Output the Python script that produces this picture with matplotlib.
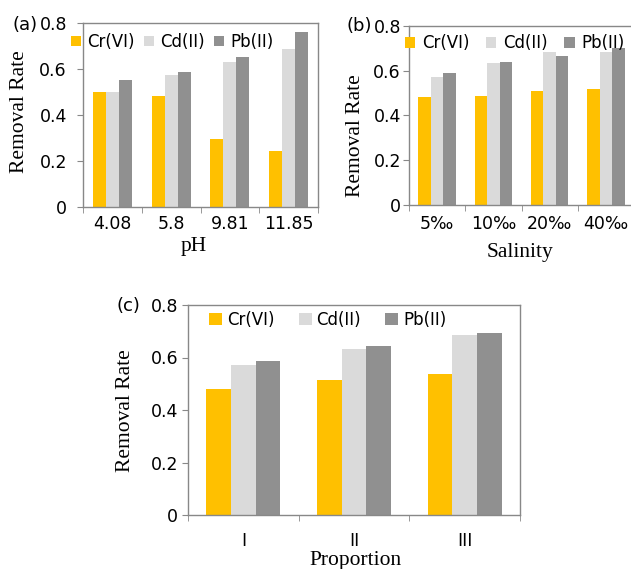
import matplotlib
matplotlib.use("Agg")
import matplotlib.pyplot as plt
import numpy as np
from matplotlib.ticker import FixedLocator, NullFormatter

# ---------------- data ----------------
series_names = ["Cr(VI)", "Cd(II)", "Pb(II)"]
colors = ["#FFC000", "#DADADA", "#909090"]

ph_cats = ["4.08", "5.8", "9.81", "11.85"]
ph_cr = [0.50, 0.483, 0.296, 0.243]
ph_cd = [0.50, 0.574, 0.632, 0.686]
ph_pb = [0.554, 0.588, 0.654, 0.759]

sal_cats = ["5‰", "10‰", "20‰", "40‰"]
sal_cr = [0.483, 0.489, 0.510, 0.520]
sal_cd = [0.574, 0.633, 0.686, 0.684]
sal_pb = [0.589, 0.638, 0.666, 0.700]

prop_cats = ["I", "II", "III"]
prop_cr = [0.481, 0.516, 0.537]
prop_cd = [0.570, 0.631, 0.684]
prop_pb = [0.587, 0.644, 0.695]

yticks = [0, 0.2, 0.4, 0.6, 0.8]
ytick_labels = ["0", "0.2", "0.4", "0.6", "0.8"]

W, H = 631, 569
fig = plt.figure(figsize=(W / 100, H / 100), dpi=100)

SANS = "DejaVu Sans"
SERIF = "Liberation Serif"
spine_col = "#888888"
PX = 72 / 100  # points per pixel


def px_axes(left, top, right, bottom):
    return fig.add_axes([left / W, 1 - bottom / H, (right - left) / W, (bottom - top) / H])


def fig_pt(x, y):
    return x / W, 1 - y / H


def draw_panel(ax, cats, vals, xlabel, ypad_px, xpad_px, leg_anchor, colsp, hl, tpad,
               ylab_xy, xlab_xy):
    n = len(cats)
    x = np.arange(n)
    bw = 0.222
    for i, (v, c, name) in enumerate(zip(vals, colors, series_names)):
        ax.bar(x + (i - 1) * bw, v, width=bw, color=c, label=name, zorder=2)
    ax.set_xlim(-0.5, n - 0.5)
    ax.set_ylim(0, 0.8)
    ax.set_yticks(yticks)
    ax.set_yticklabels(ytick_labels, fontfamily=SANS, fontsize=12.5)
    ax.set_xticks(x)
    ax.set_xticklabels(cats, fontfamily=SANS, fontsize=12.5)
    ax.xaxis.set_minor_locator(FixedLocator(np.arange(n + 1) - 0.5))
    ax.xaxis.set_minor_formatter(NullFormatter())
    ax.tick_params(axis="x", which="major", length=0, pad=xpad_px * PX)
    ax.tick_params(axis="x", which="minor", length=6 * PX, color=spine_col, direction="out")
    ax.tick_params(axis="y", length=6 * PX, color=spine_col, direction="out", pad=ypad_px * PX)
    for s in ax.spines.values():
        s.set_color(spine_col)
        s.set_linewidth(1.0)
    ax.set_ylabel("Removal Rate", fontfamily=SERIF, fontsize=15.5, va="center", ha="center")
    ax.yaxis.set_label_coords(*fig_pt(*ylab_xy), transform=fig.transFigure)
    ax.set_xlabel(xlabel, fontfamily=SERIF, fontsize=15.5, va="center", ha="center")
    ax.xaxis.set_label_coords(*fig_pt(*xlab_xy), transform=fig.transFigure)
    leg = ax.legend(loc="center left", bbox_to_anchor=leg_anchor, ncol=3, frameon=False,
                    borderaxespad=0, borderpad=0, handlelength=hl, handleheight=hl,
                    handletextpad=tpad, columnspacing=colsp,
                    prop={"family": SANS, "size": 12})
    return leg


ax_a = px_axes(83, 23, 318, 207)
draw_panel(ax_a, ph_cats, [ph_cr, ph_cd, ph_pb], "pH", 10, 8,
           (-0.051, 0.897), 0.55, 0.62, 0.35, (19.5, 112), (194, 246))

ax_b = px_axes(409, 26, 634, 205)
draw_panel(ax_b, sal_cats, [sal_cr, sal_cd, sal_pb], "Salinity", 2, 10,
           (-0.018, 0.905), 1.0, 0.62, 0.4, (356, 136), (520, 252))

ax_c = px_axes(188, 305, 520, 515)
draw_panel(ax_c, prop_cats, [prop_cr, prop_cd, prop_pb], "Proportion", 4, 17,
           (0.063, 0.929), 1.45, 0.78, 0.3, (126, 411), (356, 560))

fig.text(*fig_pt(25, 25), "(a)", fontfamily=SANS, fontsize=13, ha="center", va="center")
fig.text(*fig_pt(359, 26), "(b)", fontfamily=SANS, fontsize=13, ha="center", va="center")
fig.text(*fig_pt(128, 306), "(c)", fontfamily=SANS, fontsize=13, ha="center", va="center")

fig.savefig("out.png", dpi=100)
